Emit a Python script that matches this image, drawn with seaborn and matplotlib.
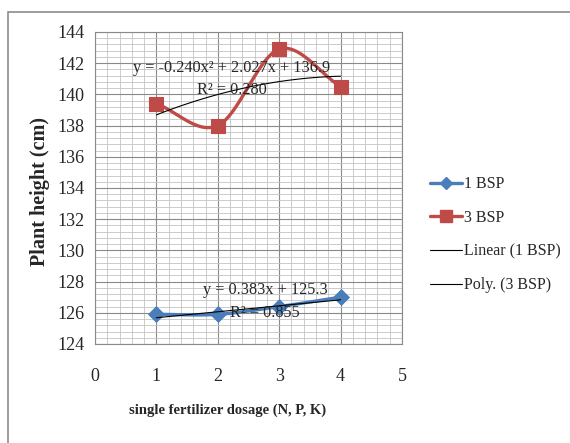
import numpy as np
import pandas as pd
import matplotlib
matplotlib.use("Agg")
import matplotlib.pyplot as plt
from matplotlib.patches import Rectangle
from matplotlib.lines import Line2D
from matplotlib.ticker import MultipleLocator
import seaborn as sns

# Data
dosage = [1, 2, 3, 4]
bsp1 = [125.9, 125.9, 126.4, 127.0]
bsp3 = [139.4, 138.0, 142.9, 140.5]

# Trendline coefficients as printed on the chart
lin_coef = [0.383, 125.3]            # 1 BSP, linear
poly_coef = [-0.240, 2.027, 136.9]   # 3 BSP, 2nd order poly


def smooth(x, y, n=30):
    # Catmull-Rom style smoothing like Excel's "smoothed line"
    x = np.asarray(x, float)
    y = np.asarray(y, float)
    px = np.concatenate([[2 * x[0] - x[1]], x, [2 * x[-1] - x[-2]]])
    py = np.concatenate([[2 * y[0] - y[1]], y, [2 * y[-1] - y[-2]]])
    xs, ys = [], []
    t = np.linspace(0, 1, n)
    for i in range(1, len(px) - 2):
        for p, out in ((px, xs), (py, ys)):
            p0, p1, p2, p3 = p[i - 1], p[i], p[i + 1], p[i + 2]
            out.extend(0.5 * ((2 * p1) + (-p0 + p2) * t
                              + (2 * p0 - 5 * p1 + 4 * p2 - p3) * t ** 2
                              + (-p0 + 3 * p1 - 3 * p2 + p3) * t ** 3))
    return np.array(xs), np.array(ys)


sns.set_style("white")
plt.rcParams['font.family'] = ['Liberation Serif', 'DejaVu Serif']

fig = plt.figure(figsize=(5.7, 4.43), dpi=100)
# outer chart frame
fig.patches.append(Rectangle((8 / 570, -0.05), 1.1, 1 - 12 / 443 + 0.05,
                             transform=fig.transFigure, fill=False,
                             edgecolor="#8c8c8c", linewidth=1.2))
ax = fig.add_axes([95 / 570, 1 - 344 / 443, 307 / 570, 312 / 443])

blue = "#4a7ebb"
red = "#be4b48"

# smoothed series lines
sx, sy = smooth(dosage, bsp1)
ax.plot(sx, sy, color=blue, lw=2.4, zorder=3)
sx, sy = smooth(dosage, bsp3)
ax.plot(sx, sy, color=red, lw=2.4, zorder=3)

df1 = pd.DataFrame({"x": dosage, "y": bsp1})
df3 = pd.DataFrame({"x": dosage, "y": bsp3})
sns.scatterplot(data=df1, x="x", y="y", marker="D", s=65, color=blue,
                edgecolor=blue, ax=ax, zorder=4)
sns.scatterplot(data=df3, x="x", y="y", marker="s", s=95, color=red,
                edgecolor=red, ax=ax, zorder=4)

# trendlines
tx = np.linspace(dosage[0], dosage[-1], 50)
ax.plot(tx, np.polyval(lin_coef, tx), color="black", lw=0.8, zorder=5)
ax.plot(tx, np.polyval(poly_coef, tx), color="black", lw=0.8, zorder=5)

ax.text(2.23, 141.7, "y = -0.240x² + 2.027x + 136.9", ha="center", va="center",
        fontsize=11.7, zorder=6)
ax.text(2.23, 140.3, "R² = 0.280", ha="center", va="center", fontsize=11.7, zorder=6)
ax.text(2.78, 127.45, "y = 0.383x + 125.3", ha="center", va="center",
        fontsize=11.7, zorder=6)
ax.text(2.77, 126.0, "R² = 0.855", ha="center", va="center", fontsize=11.7, zorder=6)

# axes, grid
ax.set_xlim(0, 5)
ax.set_ylim(124, 144)
ax.xaxis.set_major_locator(MultipleLocator(1))
ax.xaxis.set_minor_locator(MultipleLocator(0.2))
ax.yaxis.set_major_locator(MultipleLocator(2))
ax.yaxis.set_minor_locator(MultipleLocator(0.4))
ax.grid(which="major", color="#8a8a8a", lw=0.8)
ax.grid(which="minor", color="#c4c4c4", lw=0.6)
ax.set_axisbelow(True)
for s in ax.spines.values():
    s.set_color("#8a8a8a")
    s.set_linewidth(0.8)
ax.tick_params(which="major", direction="out", length=3.5, color="#8a8a8a",
               labelsize=13)
ax.tick_params(axis="y", pad=4)
ax.tick_params(axis="x", pad=14)
ax.tick_params(which="minor", length=0)
ax.set_xlabel("single fertilizer dosage (N, P, K)", fontsize=10.5,
              fontweight="bold")
ax.xaxis.set_label_coords(0.433, -0.192)
ax.set_ylabel("Plant height (cm)", fontsize=14.5, fontweight="bold")
ax.yaxis.set_label_coords(-0.148, 0.49)

# legend
handles = [
    Line2D([], [], color=blue, lw=2.4, marker="D", ms=6.5),
    Line2D([], [], color=red, lw=2.4, marker="s", ms=8),
    Line2D([], [], color="black", lw=0.8),
    Line2D([], [], color="black", lw=0.8),
]
labels = ["1 BSP", "3 BSP", "Linear (1 BSP)", "Poly. (3 BSP)"]
fig.legend(handles, labels, loc="upper left", bbox_to_anchor=(424 / 570, 1 - 170 / 443),
           frameon=False, fontsize=11.5, handlelength=2.0, handletextpad=0.1,
           labelspacing=1.1, borderaxespad=0)

fig.savefig("out.png", dpi=100)
